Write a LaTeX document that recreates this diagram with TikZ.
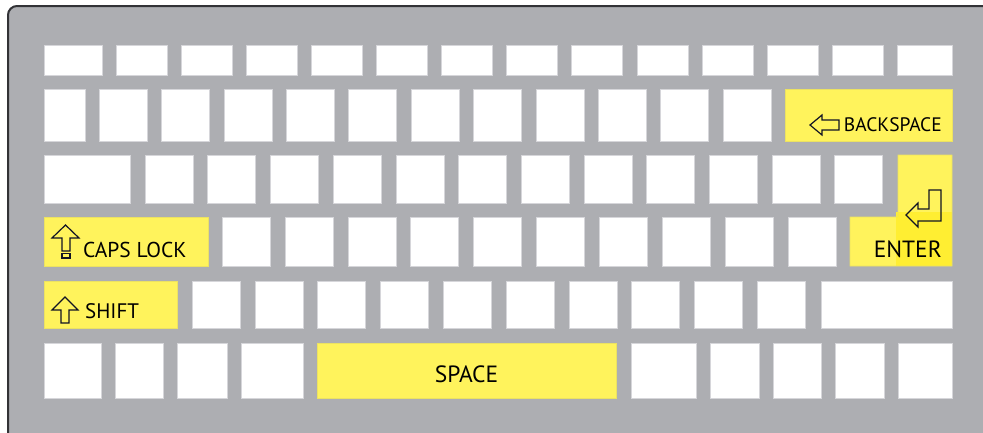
\documentclass[tikz,border=0pt]{standalone}
\usepackage{fontspec}
\setmainfont{PT Sans}
\usetikzlibrary{positioning,calc}
\definecolor{caseGrey}{RGB}{173,174,178}
\definecolor{caseEdge}{RGB}{50,50,54}
\definecolor{keyEdge}{RGB}{214,214,218}
\definecolor{keyYel}{RGB}{255,243,92}
\definecolor{keyYelHi}{RGB}{255,238,50}
\definecolor{glyph}{RGB}{18,20,36}
\tikzset{
  key/.style={draw=keyEdge, fill=white, line width=0.6pt, inner sep=0pt,
              outer sep=0pt, anchor=north west},
  hot/.style={key, draw=keyYel!85!gray, fill=keyYel},
  lbl/.style={font=\fontsize{#1}{#1}\selectfont, text=black, inner sep=0pt},
  lbl/.default=21,
  sym/.style={draw=glyph, line width=1.2pt, line join=miter},
}

\begin{document}
\begin{tikzpicture}[x=1pt,y=-1pt]
\useasboundingbox (0,0) rectangle (983,432);
\clip (0,0) rectangle (983,432);
% case
\draw[caseEdge, line width=2pt, fill=caseGrey, rounded corners=9pt] (8,6) rectangle (1010,460);

% row 1
\node[key, minimum width=58pt, minimum height=30pt] (f0) at (44,45) {};
\foreach \i in {1,...,12}
  \node[key, minimum width=51pt, minimum height=30pt] (f\i) at ({116+65.1*(\i-1)},45) {};
\node[key, minimum width=55pt, minimum height=30pt] (f13) at (897,45) {};

% row 2
\node[key, minimum width=41pt, minimum height=52pt] (n0) at (44,89) {};
\foreach \i in {1,...,11}
  \node[key, minimum width=48pt, minimum height=52pt] (n\i) at ({99+62.4*(\i-1)},89) {};
\node[hot, minimum width=167pt, minimum height=52pt] (bksp) at (785,89) {};

% row 3
\node[key, minimum width=86pt, minimum height=48pt] (t0) at (44,155) {};
\foreach \i in {1,...,12}
  \node[key, minimum width=48pt, minimum height=48pt] (t\i) at ({145+62.7*(\i-1)},155) {};

% enter
\fill[keyYel] (898,155) -- (952,155) -- (952,266) -- (850,266) -- (850,217)
  -- (894,217) .. controls (898,217) .. (898,213) -- cycle;
\fill[keyYelHi] (896,212) rectangle (952,266);
\draw[keyYel!85!gray, line width=0.6pt] (898,155) -- (952,155) -- (952,266) -- (850,266)
  -- (850,217) -- (894,217) .. controls (898,217) .. (898,213) -- cycle;

% row 4
\node[hot, minimum width=164pt, minimum height=49pt] (caps) at (44,217) {};
\foreach \i in {1,...,10}
  \node[key, minimum width=48pt, minimum height=49pt] (h\i) at ({222+62.9*(\i-1)},217) {};

% row 5
\node[hot, minimum width=133pt, minimum height=47pt] (shift) at (44,281) {};
\foreach \i in {1,...,10}
  \node[key, minimum width=48pt, minimum height=47pt] (z\i) at ({192+62.8*(\i-1)},281) {};
\node[key, minimum width=131pt, minimum height=47pt] (z11) at (821,281) {};

% row 6
\foreach \x/\w [count=\i] in {44/57,115/48,177/50,241/62,631/65,710/49,773/48,835/49,898/54}
  \node[key, minimum width=\w pt, minimum height=55pt] (b\i) at (\x,343) {};
\node[hot, minimum width=299pt, minimum height=55pt] (space) at (317,343) {};

% labels
\node[lbl=19.5, anchor=base east] (bkspT) at (942,131) {BACKSPACE};
\node[lbl=21.5, anchor=base west] (capsT) at (83,257) {CAPS LOCK};
\node[lbl=21, anchor=base west] (shiftT) at (85,318) {SHIFT};
\node[lbl=23.5, anchor=base east] (enterT) at (942,257) {ENTER};
\node[lbl=23.5, anchor=base] (spaceT) at (466.5,382) {SPACE};

% glyphs
\draw[sym] (810,125) -- (822,115) -- (822,120) -- (839,120) -- (839,130)
  -- (822,130) -- (822,135) -- cycle;
\draw[sym] (65.5,225) -- (79,238) -- (70,238) -- (70,251) -- (62,251)
  -- (62,238) -- (52,238) -- cycle;
\draw[sym] (62,253.5) rectangle (70,258);
\draw[sym] (65,297) -- (78,310) -- (69,310) -- (69,323) -- (61,323)
  -- (61,310) -- (52,310) -- cycle;
\draw[sym] (929,190) -- (941,190) -- (941,221) -- (918,221) -- (918,227)
  -- (906,215) -- (918,203) -- (918,209) -- (929,209) -- cycle;
\end{tikzpicture}
\end{document}
